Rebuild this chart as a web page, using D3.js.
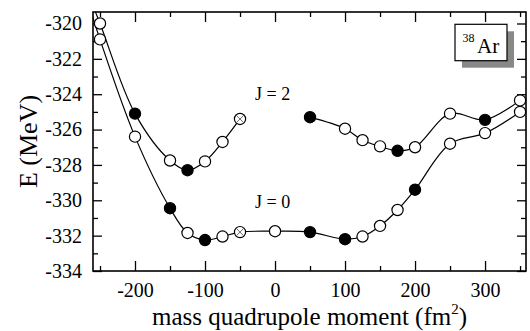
<!DOCTYPE html>
<html>
<head>
<meta charset="utf-8">
<script src="https://cdn.jsdelivr.net/npm/d3@7"></script>
<style>
  body { margin: 0; background: #fff; }
</style>
</head>
<body>
<div id="mainDiv"></div>
<script>
'use strict';

// J=2 curve, left branch (first point lies just outside the frame)
var j2LeftX = [-270, -250, -200, -150, -125, -100, -75, -50];
var j2LeftE = [-318.0, -320.0, -325.1, -327.75, -328.3, -327.8, -326.7, -325.4];
var j2LeftType = ['', 'o', 'f', 'o', 'f', 'o', 'o', 'x'];

// J=2 curve, right branch
var j2RightX = [50, 100, 125, 150, 175, 200, 250, 300, 350];
var j2RightE = [-325.3, -325.95, -326.6, -326.95, -327.2, -327.0, -325.1, -325.45, -324.35];
var j2RightType = ['f', 'o', 'o', 'o', 'f', 'o', 'o', 'f', 'o'];

// J=0 curve
var j0X = [-270, -250, -200, -150, -125, -100, -75, -50, 0, 50, 100, 125, 150, 175, 200, 250, 300, 350];
var j0E = [-318.4, -320.9, -326.4, -330.45, -331.85, -332.25, -332.05, -331.8, -331.75, -331.8, -332.2, -332.05, -331.45, -330.55, -329.4, -326.8, -326.2, -325.0];
var j0Type = ['', 'o', 'o', 'f', 'o', 'f', 'o', 'x', 'o', 'f', 'f', 'o', 'o', 'o', 'f', 'o', 'o', 'o'];

var xMajorTicks = [-200, -100, 0, 100, 200, 300];
var xMinorTicks = [-250, -150, -50, 50, 150, 250, 350];
var yMajorTicks = [-334, -332, -330, -328, -326, -324, -322, -320];
var yMinorTicks = [-333, -331, -329, -327, -325, -323, -321];

var myApp = {};

myApp.font = "Liberation Serif";
myApp.width = 530;
myApp.height = 331;
myApp.margin = { top: 12, right: 4, bottom: 60, left: 93 };

myApp.appendSvg = function (element, w, h)
{
    return d3.select(element).append("svg")
        .attr("width", w)
        .attr("height", h)
        .attr("font-family", myApp.font);
}

myApp.zip = function (xs, es, types)
{
    return xs.map(function (x, i) { return { x: x, e: es[i], t: types[i] }; });
}

myApp.drawAxes = function (g, x, y, w, h)
{
    var fmt = function (d) { return String(d); };

    g.append("g").attr("transform", "translate(0," + h + ")")
        .call(d3.axisBottom(x).tickValues(xMajorTicks).tickSize(-10).tickPadding(12).tickFormat(fmt));
    g.append("g").attr("transform", "translate(0," + h + ")")
        .call(d3.axisBottom(x).tickValues(xMinorTicks).tickSize(-5).tickFormat(""));
    g.append("g")
        .call(d3.axisTop(x).tickValues(xMajorTicks).tickSize(-10).tickFormat(""));
    g.append("g")
        .call(d3.axisTop(x).tickValues(xMinorTicks).tickSize(-5).tickFormat(""));

    g.append("g")
        .call(d3.axisLeft(y).tickValues(yMajorTicks).tickSize(-9).tickPadding(11).tickFormat(fmt));
    g.append("g")
        .call(d3.axisLeft(y).tickValues(yMinorTicks).tickSize(-5).tickFormat(""));
    g.append("g").attr("transform", "translate(" + w + ",0)")
        .call(d3.axisRight(y).tickValues(yMajorTicks).tickSize(-9).tickFormat(""));
    g.append("g").attr("transform", "translate(" + w + ",0)")
        .call(d3.axisRight(y).tickValues(yMinorTicks).tickSize(-5).tickFormat(""));

    g.selectAll(".domain").remove();
    g.selectAll(".tick line").attr("stroke", "#000").attr("stroke-width", 1.3);
    g.selectAll(".tick text")
        .attr("font-family", myApp.font)
        .attr("font-size", "20px")
        .attr("fill", "#000");

    g.append("rect")
        .attr("width", w).attr("height", h)
        .attr("fill", "none").attr("stroke", "#000").attr("stroke-width", 1.6);
}

myApp.drawCurve = function (g, x, y, pts)
{
    var line = d3.line()
        .x(function (d) { return x(d.x); })
        .y(function (d) { return y(d.e); })
        .curve(d3.curveCatmullRom.alpha(0.5));

    g.append("path")
        .datum(pts)
        .attr("clip-path", "url(#plotClip)")
        .attr("d", line)
        .attr("fill", "none")
        .attr("stroke", "#000")
        .attr("stroke-width", 1.2);
}

myApp.drawMarkers = function (g, x, y, pts)
{
    var r = 5.6;
    var m = g.selectAll(null)
        .data(pts.filter(function (d) { return d.t !== ''; }))
        .enter()
        .append("g")
            .attr("transform", function (d) { return "translate(" + x(d.x) + "," + y(d.e) + ")"; });

    m.append("circle")
        .attr("r", r)
        .attr("fill", function (d) { return d.t === 'f' ? "#000" : "#fff"; })
        .attr("stroke", "#000")
        .attr("stroke-width", 1.2);

    var c = r * 0.62;
    m.filter(function (d) { return d.t === 'x'; })
        .append("path")
        .attr("d", "M" + (-c) + "," + (-c) + "L" + c + "," + c + "M" + (-c) + "," + c + "L" + c + "," + (-c))
        .attr("stroke", "#444")
        .attr("stroke-width", 0.8);
}

myApp.addText = function (parent, px, py, size, str)
{
    return parent.append("text")
        .attr("x", px).attr("y", py)
        .attr("font-family", myApp.font)
        .attr("font-size", size + "px")
        .attr("fill", "#000")
        .text(str);
}

myApp.run = function ()
{
    var mg = myApp.margin;
    var w = myApp.width - mg.left - mg.right;
    var h = myApp.height - mg.top - mg.bottom;

    var svg = myApp.appendSvg("#mainDiv", myApp.width, myApp.height);
    var g = svg.append("g").attr("transform", "translate(" + mg.left + "," + mg.top + ")");

    var x = d3.scaleLinear().domain([-260, 358.5]).range([0, w]);
    var y = d3.scaleLinear().domain([-334, -319.35]).range([h, 0]);

    svg.append("defs").append("clipPath").attr("id", "plotClip")
        .append("rect").attr("width", w).attr("height", h);

    var j2Left = myApp.zip(j2LeftX, j2LeftE, j2LeftType);
    var j2Right = myApp.zip(j2RightX, j2RightE, j2RightType);
    var j0 = myApp.zip(j0X, j0E, j0Type);

    myApp.drawCurve(g, x, y, j0);
    myApp.drawCurve(g, x, y, j2Left);
    myApp.drawCurve(g, x, y, j2Right);

    myApp.drawAxes(g, x, y, w, h);

    myApp.drawMarkers(g, x, y, j0);
    myApp.drawMarkers(g, x, y, j2Left);
    myApp.drawMarkers(g, x, y, j2Right);

    // curve labels
    myApp.addText(g, 162, 88, 18, "J = 2");
    myApp.addText(g, 162, 196, 18, "J = 0");

    // nucleus box with shadow
    g.append("rect").attr("x", 369).attr("y", 19.3).attr("width", 52).attr("height", 36.4).attr("fill", "#888");
    g.append("rect").attr("x", 362).attr("y", 12.3).attr("width", 52).attr("height", 36.4)
        .attr("fill", "#fff").attr("stroke", "#000").attr("stroke-width", 1.2);
    myApp.addText(g, 369.5, 29.5, 12, "38");
    myApp.addText(g, 384, 40.5, 21, "Ar");

    // axis titles
    var xt = myApp.addText(svg, mg.left + w / 2, 325, 25, null)
        .attr("text-anchor", "middle");
    xt.append("tspan").text("mass quadrupole moment (fm");
    xt.append("tspan").attr("font-size", "15px").attr("dy", "-11").text("2");
    xt.append("tspan").attr("dy", "11").text(")");

    myApp.addText(svg, 0, 0, 26, "E (MeV)")
        .attr("transform", "translate(37," + (mg.top + h / 2) + ") rotate(-90)")
        .attr("text-anchor", "middle");
}

window.onload = myApp.run;
</script>
</body>
</html>
